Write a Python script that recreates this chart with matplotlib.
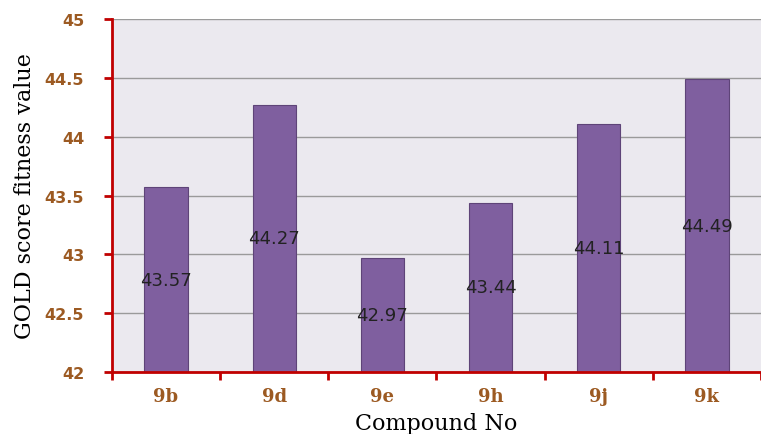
import numpy as np
import matplotlib
matplotlib.use("Agg")
from matplotlib import pyplot as plt

compounds = ["9b", "9d", "9e", "9h", "9j", "9k"]
scores = [43.57, 44.27, 42.97, 43.44, 44.11, 44.49]
yticks = [42, 42.5, 43, 43.5, 44, 44.5, 45]
ytick_labels = ["42", "42.5", "43", "43.5", "44", "44.5", "45"]

red = "#C00000"
brown = "#9C5A22"

fig = plt.figure(figsize=(7.61, 4.35), dpi=100)
ax = fig.add_axes([0.147, 0.1425, 0.853, 0.8115])
ax.set_facecolor("#EBE9EF")

x = np.arange(len(compounds))
ax.bar(x, scores, width=0.4, bottom=0, color="#7F5F9F", edgecolor="#5E4478",
       linewidth=0.8, zorder=3)

# value labels sit in the middle of each bar
for xi, v in zip(x, scores):
    ax.text(xi, (42 + v) / 2, f"{v:.2f}", ha="center", va="center",
            fontsize=13, color="#222222", family="DejaVu Sans", zorder=4)

ax.set_ylim(42, 45)
ax.set_xlim(-0.5, len(compounds) - 0.5)
ax.set_yticks(yticks)
ax.set_yticklabels(ytick_labels)
ax.yaxis.grid(True, color="#9A9A9A", linewidth=1, zorder=0)

# category labels between boundary ticks
ax.set_xticks(x)
ax.set_xticklabels(compounds)
ax.set_xticks(np.arange(len(compounds) + 1) - 0.5, minor=True)
ax.tick_params(axis="x", which="major", length=0, pad=11)
ax.tick_params(axis="x", which="minor", length=6, width=2, color=red, direction="out")
ax.tick_params(axis="y", length=6, width=2, color=red, direction="out", pad=14)

for lab in ax.get_xticklabels():
    lab.set_family("DejaVu Serif")
    lab.set_fontweight("bold")
    lab.set_color(brown)
    lab.set_fontsize(13)
for lab in ax.get_yticklabels():
    lab.set_family("DejaVu Sans")
    lab.set_fontweight("bold")
    lab.set_color(brown)
    lab.set_fontsize(11.5)

for s in ["top", "right"]:
    ax.spines[s].set_visible(False)
for s in ["left", "bottom"]:
    ax.spines[s].set_color(red)
    ax.spines[s].set_linewidth(2)
    ax.spines[s].set_zorder(5)

ax.set_xlabel("Compound No", family="DejaVu Serif", fontsize=16)
ax.xaxis.set_label_coords(0.5, -0.112)
ax.set_ylabel("GOLD score fitness value", family="DejaVu Serif", fontsize=16, labelpad=6)

fig.savefig("out.png", dpi=100)
